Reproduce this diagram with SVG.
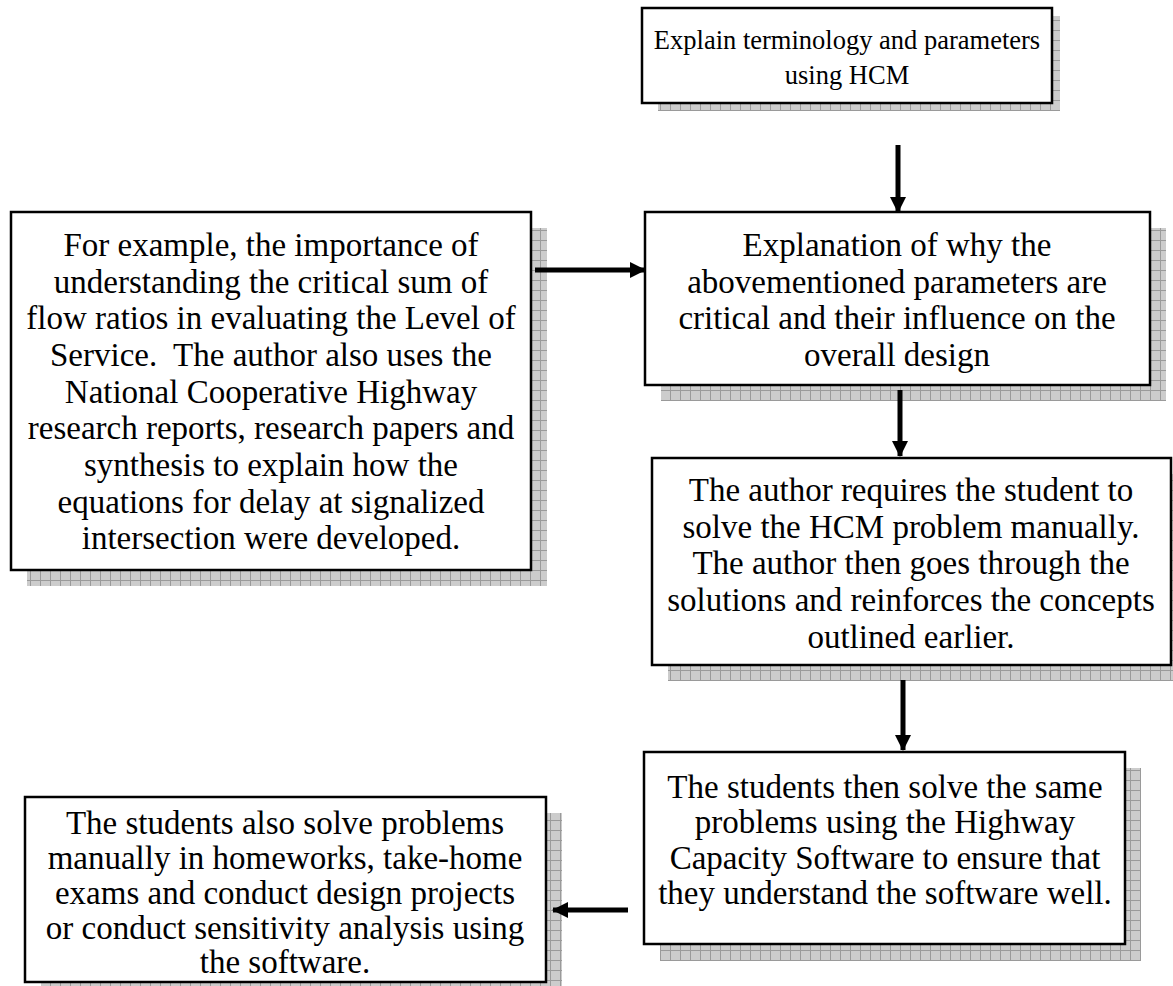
<svg xmlns="http://www.w3.org/2000/svg" width="1173" height="986" viewBox="0 0 1173 986">
<defs>
<pattern id="grid" width="10" height="10" patternUnits="userSpaceOnUse">
<rect width="10" height="10" fill="#cccccc"/>
<path d="M0 0.5H10M0.5 0V10" stroke="#9a9a9a" stroke-width="1"/>
</pattern>
<marker id="ah" viewBox="0 0 16 16" refX="15" refY="8" markerWidth="16" markerHeight="16" markerUnits="userSpaceOnUse" orient="auto">
<path d="M0 0L16 8L0 16Z" fill="#000"/>
</marker>
</defs>
<style>
.box{fill:#fff;stroke:#000;stroke-width:2.5}
.sh{fill:url(#grid)}
text{font-family:"Liberation Serif","Times New Roman",serif;font-size:33px;fill:#000;text-anchor:middle;white-space:pre}
.t1{font-size:26.5px}
.c{stroke:#000;stroke-width:5;fill:none;marker-end:url(#ah)}
</style>
<rect width="1173" height="986" fill="#fff"/>
<g id="n1">
<rect class="sh" x="658" y="16" width="402" height="95"/>
<rect class="box" x="642" y="8" width="410" height="95"/>
<text class="t1" x="847" y="49">Explain terminology and parameters</text>
<text class="t1" x="847" y="84">using HCM</text>
</g>
<g id="n2">
<rect class="sh" x="27" y="228" width="520" height="358"/>
<rect class="box" x="11" y="212" width="520" height="358"/>
<text x="271" y="256">For example, the importance of</text>
<text x="271" y="293">understanding the critical sum of</text>
<text x="271" y="329">flow ratios in evaluating the Level of</text>
<text x="271" y="366">Service.  The author also uses the</text>
<text x="271" y="403">National Cooperative Highway</text>
<text x="271" y="439">research reports, research papers and</text>
<text x="271" y="476">synthesis to explain how the</text>
<text x="271" y="513">equations for delay at signalized</text>
<text x="271" y="549">intersection were developed.</text>
</g>
<g id="n3">
<rect class="sh" x="661" y="228" width="505" height="173"/>
<rect class="box" x="645" y="212" width="505" height="173"/>
<text x="897" y="256">Explanation of why the</text>
<text x="897" y="293">abovementioned parameters are</text>
<text x="897" y="329">critical and their influence on the</text>
<text x="897" y="366">overall design</text>
</g>
<g id="n4">
<rect class="sh" x="668" y="474" width="519" height="207"/>
<rect class="box" x="652" y="458" width="519" height="207"/>
<text x="911" y="501">The author requires the student to</text>
<text x="911" y="538">solve the HCM problem manually.</text>
<text x="911" y="574">The author then goes through the</text>
<text x="911" y="611">solutions and reinforces the concepts</text>
<text x="911" y="648">outlined earlier.</text>
</g>
<g id="n5">
<rect class="sh" x="660" y="768" width="481" height="193"/>
<rect class="box" x="644" y="752" width="481" height="192"/>
<text x="885" y="798">The students then solve the same</text>
<text x="885" y="833">problems using the Highway</text>
<text x="885" y="869">Capacity Software to ensure that</text>
<text x="885" y="904">they understand the software well.</text>
</g>
<g id="n6">
<rect class="sh" x="41" y="813" width="521" height="185"/>
<rect class="box" x="25" y="797" width="521" height="185"/>
<text x="285" y="834">The students also solve problems</text>
<text x="285" y="869">manually in homeworks, take-home</text>
<text x="285" y="904">exams and conduct design projects</text>
<text x="285" y="939">or conduct sensitivity analysis using</text>
<text x="285" y="973">the software.</text>
</g>
<g id="connectors">
<line class="c" x1="898" y1="145" x2="898" y2="212"/>
<line class="c" x1="535" y1="270" x2="645" y2="270"/>
<line class="c" x1="900" y1="390" x2="900" y2="456"/>
<line class="c" x1="903" y1="680" x2="903" y2="750"/>
<line class="c" x1="628" y1="910" x2="553" y2="910"/>
</g>
</svg>
